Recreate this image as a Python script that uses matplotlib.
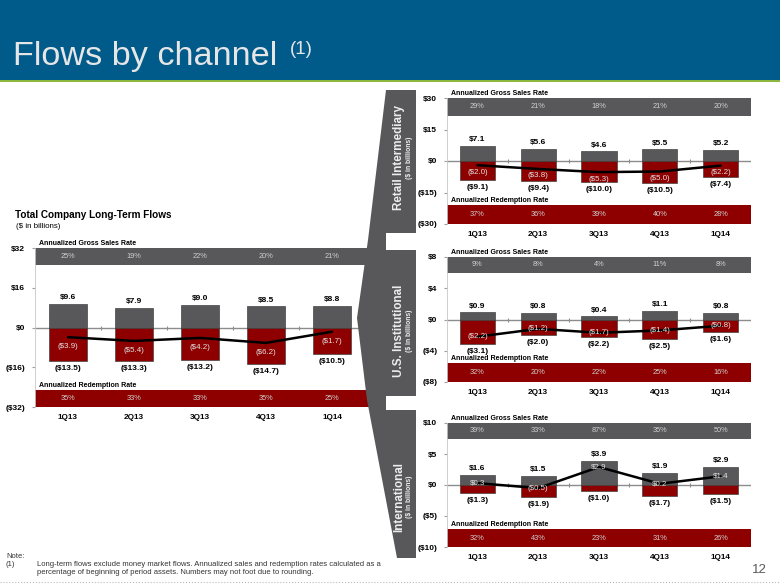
import matplotlib
matplotlib.use('Agg')
import matplotlib.pyplot as plt
from matplotlib.patches import Rectangle, Polygon
from matplotlib.lines import Line2D
from matplotlib.transforms import blended_transform_factory
from matplotlib import font_manager
import numpy as np

# ---------------- data ----------------
quarters = ['1Q13', '2Q13', '3Q13', '4Q13', '1Q14']

total_gross = [9.6, 7.9, 9.0, 8.5, 8.8]
total_redem = [-13.5, -13.3, -13.2, -14.7, -10.5]
total_net = [-3.9, -5.4, -4.2, -6.2, -1.7]
total_gross_rate = ['25%', '19%', '22%', '20%', '21%']
total_redem_rate = ['35%', '33%', '33%', '35%', '25%']
total_yticks = [-32, -16, 0, 16, 32]

retail_gross = [7.1, 5.6, 4.6, 5.5, 5.2]
retail_redem = [-9.1, -9.4, -10.0, -10.5, -7.4]
retail_net = [-2.0, -3.8, -5.3, -5.0, -2.2]
retail_gross_rate = ['29%', '21%', '18%', '21%', '20%']
retail_redem_rate = ['37%', '36%', '39%', '40%', '28%']
retail_yticks = [-30, -15, 0, 15, 30]

inst_gross = [0.9, 0.8, 0.4, 1.1, 0.8]
inst_redem = [-3.1, -2.0, -2.2, -2.5, -1.6]
inst_net = [-2.2, -1.2, -1.7, -1.4, -0.8]
inst_gross_rate = ['9%', '8%', '4%', '11%', '8%']
inst_redem_rate = ['32%', '20%', '22%', '25%', '16%']
inst_yticks = [-8, -4, 0, 4, 8]

intl_gross = [1.6, 1.5, 3.9, 1.9, 2.9]
intl_redem = [-1.3, -1.9, -1.0, -1.7, -1.5]
intl_net = [0.3, -0.5, 2.9, 0.2, 1.4]
intl_gross_rate = ['39%', '33%', '87%', '35%', '50%']
intl_redem_rate = ['32%', '43%', '23%', '31%', '26%']
intl_yticks = [-10, -5, 0, 5, 10]

# ---------------- style ----------------
W, H = 780, 585
GRAY = '#58585A'
RED = '#8E0000'
LIGHT = '#E2E2E2'
BLUE = '#005A8A'
GREEN = '#8DB63C'

names = {f.name for f in font_manager.fontManager.ttflist}
HAS_NARROW = 'Liberation Sans Narrow' in names
NARROW = ['Liberation Sans Narrow', 'Liberation Sans', 'DejaVu Sans'] if HAS_NARROW else ['Liberation Sans', 'DejaVu Sans']
NS = 1.0 if HAS_NARROW else 0.84

plt.rcParams['font.family'] = ['Liberation Sans', 'DejaVu Sans']


def fx(x):
    return x / W


def fy(y):
    return 1 - y / H


def axbox(x0, y0, x1, y1):
    return [x0 / W, 1 - y1 / H, (x1 - x0) / W, (y1 - y0) / H]


def money(v):
    return f"${v:.1f}" if v >= 0 else f"(${-v:.1f})"


def tickfmt(v):
    return f"${v:g}" if v >= 0 else f"(${-v:g})"


fig = plt.figure(figsize=(W / 100, H / 100), dpi=100)
fig.patch.set_facecolor('white')


def panel(rect, gross, redem, net, grate, rrate, yticks, top_px, bot_px, net_off, band_ext=0.0):
    ax = fig.add_axes(rect)
    x = np.arange(len(quarters))
    n = len(quarters)
    ax.set_xlim(-0.5, n - 0.5)
    ax.set_ylim(yticks[0], yticks[-1])
    ax.bar(x, gross, width=0.58, color=GRAY, edgecolor='#444444', linewidth=0.5, zorder=2)
    ax.bar(x, redem, width=0.58, color=RED, edgecolor='#444444', linewidth=0.5, zorder=2)
    ax.axhline(0, color='#8C8C8C', lw=1.0, zorder=1.5)
    ax.plot(x[:-1] + 0.5, np.zeros(n - 1), ls='none', marker='|', ms=3, mew=0.8,
            color='#8C8C8C', zorder=1.5)
    ax.plot(x, net, color='black', lw=1.8, zorder=3, solid_capstyle='round')
    for i in range(n):
        ax.annotate(money(gross[i]), (i, gross[i]), xytext=(0, 2), textcoords='offset points',
                    ha='center', va='bottom', fontsize=7.2 * NS, fontweight='bold', family=NARROW, zorder=4)
        ax.annotate(money(redem[i]), (i, redem[i]), xytext=(0, -3), textcoords='offset points',
                    ha='center', va='top', fontsize=7.2 * NS, fontweight='bold', family=NARROW, zorder=4)
        ax.annotate(money(net[i]), (i, net[i]), xytext=(0, net_off), textcoords='offset points',
                    ha='center', va='center', fontsize=6.8 * NS, color=LIGHT, family=NARROW, zorder=4)
    ax_h = rect[3] * H
    ht = top_px / ax_h
    hb = bot_px / ax_h
    tr = blended_transform_factory(ax.transData, ax.transAxes)
    ax.add_patch(Rectangle((-0.5, 1 - ht), n + band_ext, ht, transform=tr, facecolor=GRAY,
                           edgecolor='none', zorder=1, clip_on=False))
    ax.add_patch(Rectangle((-0.5, 0), n + band_ext, hb, transform=tr, facecolor=RED,
                           edgecolor='none', zorder=1, clip_on=False))
    for i in range(n):
        ax.text(i, 1 - ht / 2, grate[i], transform=tr, ha='center', va='center',
                color='#D0D0D0', fontsize=6.3 * NS, family=NARROW, zorder=4)
        ax.text(i, hb / 2, rrate[i], transform=tr, ha='center', va='center',
                color='#D0D0D0', fontsize=6.3 * NS, family=NARROW, zorder=4)
    lab_fs = 6.8 * NS * (98 / 110 if not HAS_NARROW else 1.0)
    ax.annotate('Annualized Gross Sales Rate', (0.012, 1), xycoords='axes fraction', xytext=(0, 1),
                textcoords='offset points', ha='left', va='bottom', fontsize=lab_fs,
                fontweight='bold', family=NARROW)
    ax.annotate('Annualized Redemption Rate', (0.012, hb), xycoords='axes fraction', xytext=(0, 1),
                textcoords='offset points', ha='left', va='bottom', fontsize=lab_fs,
                fontweight='bold', family=NARROW, zorder=5)
    ax.set_yticks(yticks)
    ax.set_yticklabels([tickfmt(v) for v in yticks], fontsize=7.2 * NS, fontweight='bold', family=NARROW)
    ax.set_xticks(x)
    ax.set_xticklabels(quarters, fontsize=7.0 * NS, fontweight='bold', family=NARROW)
    ax.tick_params(axis='y', length=2, pad=5, color='#A0A0A0')
    ax.tick_params(axis='x', length=0, pad=5)
    for s in ['top', 'right', 'bottom']:
        ax.spines[s].set_visible(False)
    ax.spines['left'].set_color('#C8C8C8')
    ax.spines['left'].set_linewidth(0.6)
    return ax


# header
fig.add_artist(Rectangle((0, fy(80)), 1, 80 / H, transform=fig.transFigure,
                         facecolor=BLUE, edgecolor='none', zorder=0))
fig.add_artist(Rectangle((0, fy(82)), 1, 2 / H, transform=fig.transFigure,
                         facecolor=GREEN, edgecolor='none', zorder=0))
fig.text(fx(13), fy(65), 'Flows by channel', fontsize=24.7, color='#E6E6E6', va='baseline', ha='left')
fig.text(fx(290), fy(54), '(1)', fontsize=13.5, color='#E6E6E6', va='baseline', ha='left')

# total chart
fig.text(fx(15), fy(215), 'Total Company Long-Term Flows',
         fontsize=(9.3 * NS if HAS_NARROW else 7.2), fontweight='bold',
         family=NARROW, va='center', ha='left')
fig.text(fx(16), fy(227), '($ in billions)', fontsize=6.8 * NS, family=NARROW, va='center', ha='left')
panel(axbox(35, 248, 365, 407), total_gross, total_redem, total_net,
      total_gross_rate, total_redem_rate, total_yticks, 17, 17, -7, band_ext=0.12)

panel(axbox(447, 98, 751, 224), retail_gross, retail_redem, retail_net,
      retail_gross_rate, retail_redem_rate, retail_yticks, 18, 19, -5)
panel(axbox(447, 257, 751, 382), inst_gross, inst_redem, inst_net,
      inst_gross_rate, inst_redem_rate, inst_yticks, 16, 19, 0)
panel(axbox(447, 423, 751, 547), intl_gross, intl_redem, intl_net,
      intl_gross_rate, intl_redem_rate, intl_yticks, 16, 18, 0)

# bracket
brace_px = [(386, 90), (368, 240), (357, 318), (367, 400), (397, 558), (416, 558), (416, 90)]
fig.add_artist(Polygon([(fx(a), fy(b)) for a, b in brace_px], closed=True, transform=fig.transFigure,
                       facecolor=GRAY, edgecolor='none', zorder=3))
for y0, y1 in [(233, 250), (396, 410)]:
    fig.add_artist(Rectangle((fx(386), fy(y1)), fx(418) - fx(386), (y1 - y0) / H,
                             transform=fig.transFigure, facecolor='white', edgecolor='none', zorder=4))
for title, yc in [('Retail Intermediary', 158), ('U.S. Institutional', 331), ('International', 497)]:
    fig.text(fx(399), fy(yc), title, rotation=90, ha='center', va='center', fontsize=10 * NS,
             fontweight='bold', color='#EDEDED', family=NARROW, zorder=5)
    fig.text(fx(409.5), fy(yc), '($ in billions)', rotation=90, ha='center', va='center',
             fontsize=5.8 * NS, fontweight='bold', color='#EDEDED', family=NARROW, zorder=5)

# footer
FS_NOTE = 5.5
fig.text(fx(6), fy(557), 'Note:', fontsize=FS_NOTE, color='#333333', va='center', ha='left')
fig.text(fx(6), fy(565), '(1)', fontsize=FS_NOTE, color='#333333', va='center', ha='left')
fig.text(fx(37), fy(565), 'Long-term flows exclude money market flows. Annualized sales and redemption '
         'rates calculated as a', fontsize=FS_NOTE, color='#333333', va='center', ha='left')
fig.text(fx(37), fy(573), 'percentage of beginning of period assets. Numbers may not foot due to rounding.',
         fontsize=FS_NOTE, color='#333333', va='center', ha='left')
fig.text(fx(767), fy(570), '12', fontsize=9.5, color='#595959', va='center', ha='right')
fig.add_artist(Line2D([0, 1], [fy(582), fy(582)], transform=fig.transFigure, color='#BBBBBB',
                      lw=0.8, ls=':'))

fig.savefig('out.png', dpi=100, facecolor='white')
